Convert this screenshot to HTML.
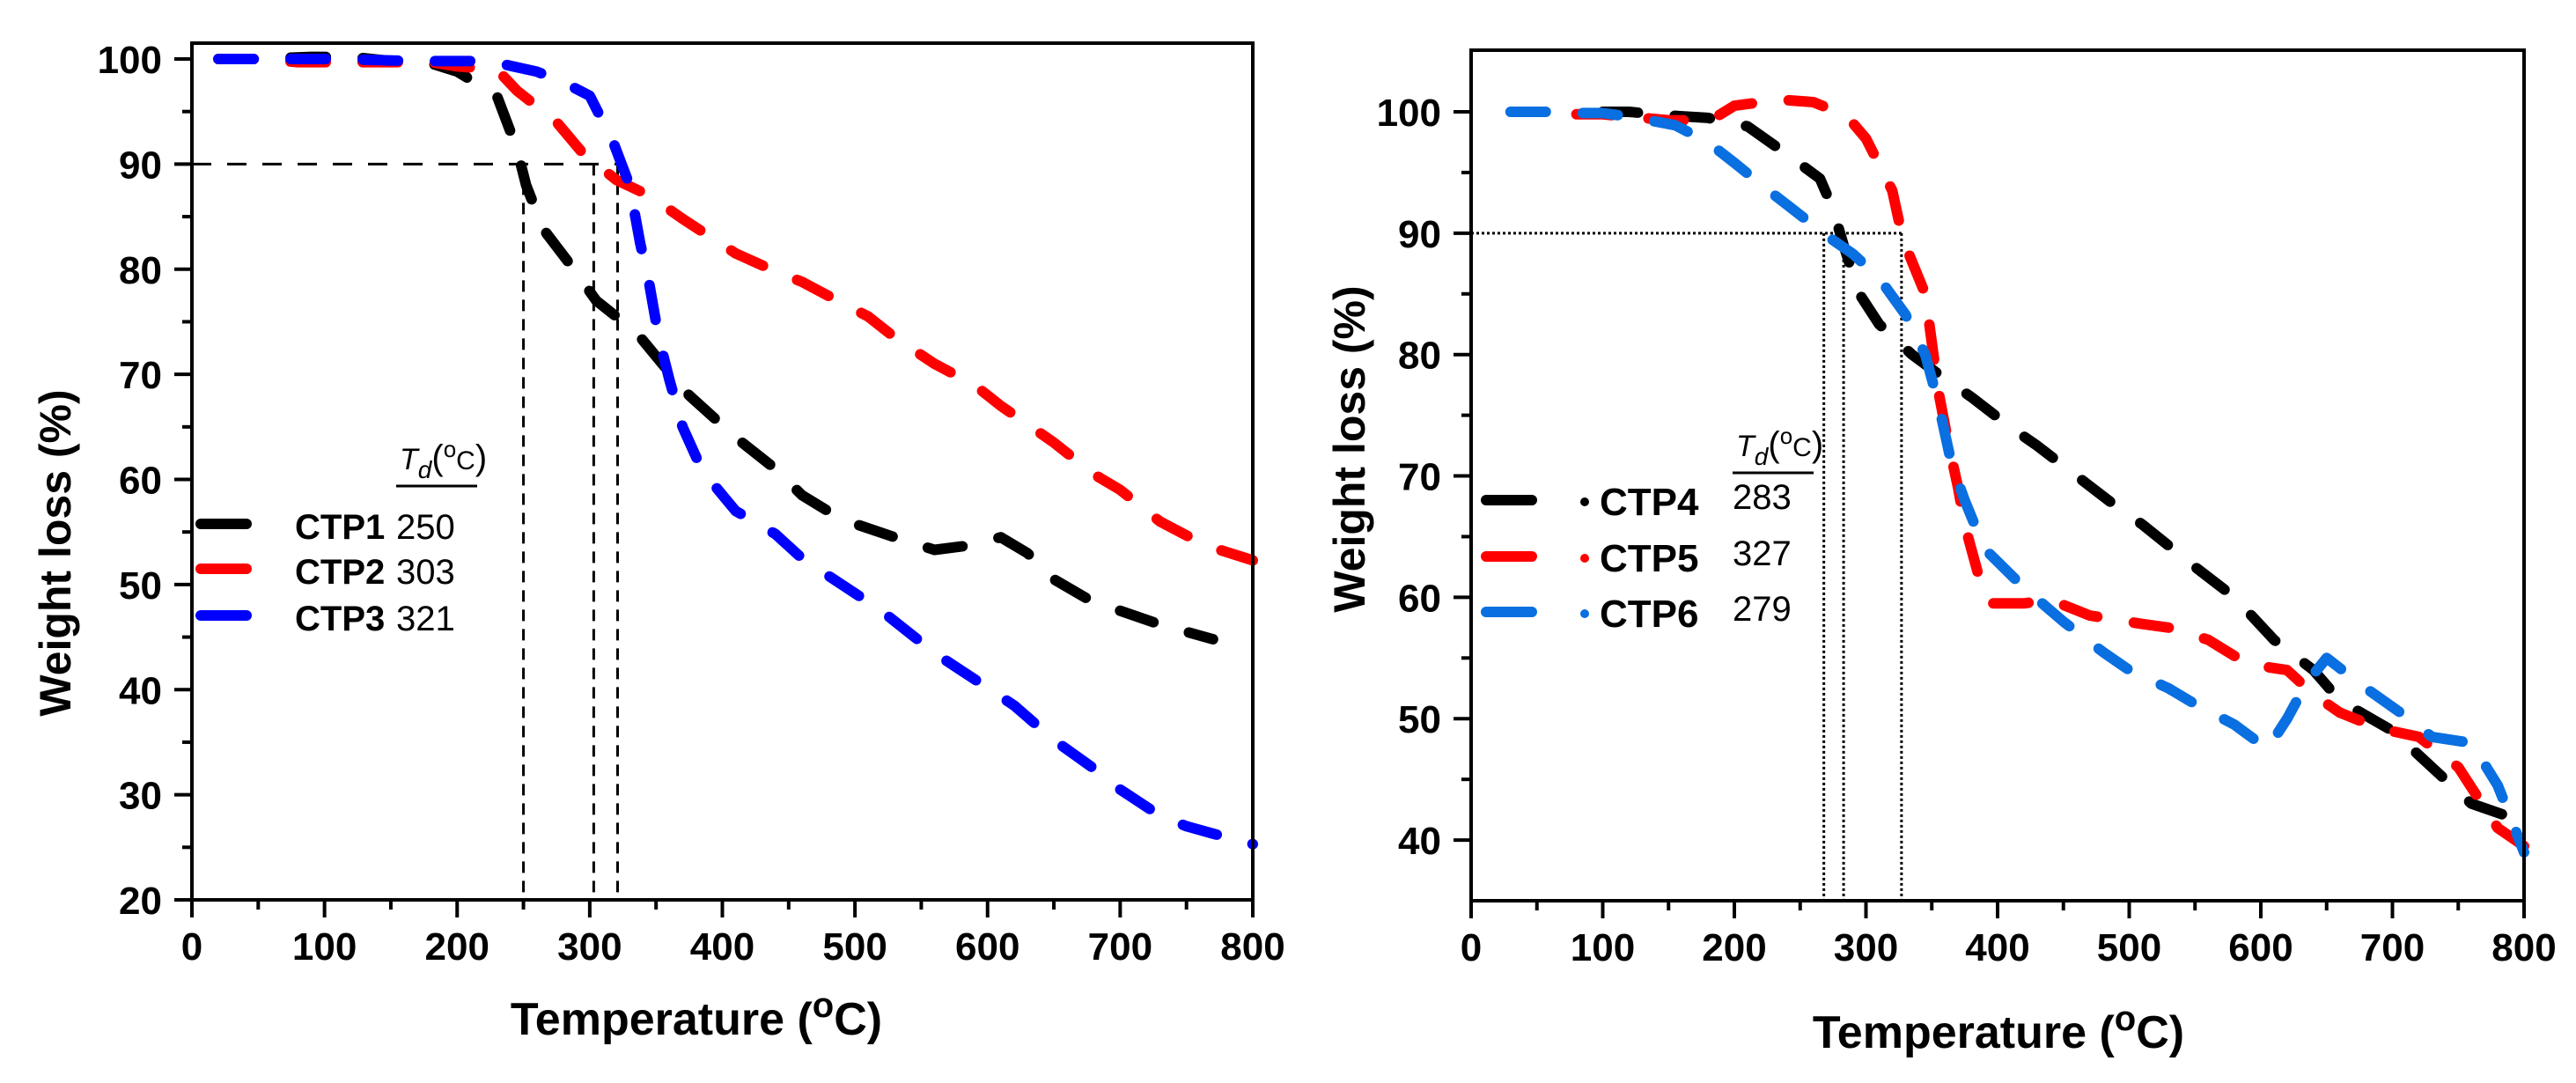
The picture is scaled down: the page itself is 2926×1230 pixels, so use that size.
<!DOCTYPE html>
<html><head><meta charset="utf-8"><style>
html,body{margin:0;padding:0;background:#fff;}
svg{display:block;font-family:"Liberation Sans",Arial,sans-serif;}
</style></head><body>
<svg id="fig" width="2926" height="1230" viewBox="0 0 2926 1230"></svg>
<script>
// ---- Left chart data ----
const leftXTicks=[0,100,200,300,400,500,600,700,800];
const leftYTicks=[20,30,40,50,60,70,80,90,100];
const ctp1T=[20,50,90,120,150,180,200,230,245,252,265,285,305,335,358,375,410,440,460,490,530,560,585,610,630,650,680,700,730,770];
const ctp1W=[100,100,100.2,100.2,99.8,99.6,98.8,96.5,91.5,88,83.8,80.5,77,74,70.5,68,64,61,58.5,56.2,54.5,53.3,53.7,54.5,53,50.5,48.3,47.5,46.2,44.8];
const ctp2T=[20,50,80,110,150,180,200,230,245,275,295,320,345,370,410,440,460,490,510,530,560,590,610,650,680,700,730,760,775,800];
const ctp2W=[100,100,99.7,99.7,99.7,99.7,99.3,99.0,97,94,91,88.5,87,84.8,81.5,79.8,78.8,76.8,75.5,73.5,71,69,67,63.5,60.5,59,56,54,53.3,52.3];
const ctp3T=[20,50,110,170,210,235,260,280,300,318,330,338,345,352,360,370,385,410,440,460,490,520,530,560,590,620,650,680,700,730,750,770,800];
const ctp3W=[100,100,100,99.8,99.8,99.5,98.8,97.8,96.5,92,88,82.5,78.5,73.5,69.5,65,60.8,57,54.8,52.5,50,47.5,46.5,43.5,41,38.5,35.2,32.5,30.5,28,27,26.3,25.3];
const leftTd=[250,303,321];
const leftGuides=[250,303,321];
const leftNames=["CTP1","CTP2","CTP3"];
// ---- Right chart data ----
const rightXTicks=[0,100,200,300,400,500,600,700,800];
const rightYTicks=[40,50,60,70,80,90,100];
const ctp4T=[100,120,150,180,210,240,265,275,283,295,310,335,360,380,410,430,460,490,510,550,580,610,640,660,700,740,760,800];
const ctp4W=[100,100,99.7,99.5,98.8,96.5,94.5,92,89,85,82.5,80,78,76.5,74,72.5,70,67.5,66,62.5,60,56.5,54,51.5,49,45,43,41.5];
const ctp5T=[80,100,150,175,185,200,235,260,285,300,320,328,345,355,362,370,375,385,395,420,440,470,510,530,560,590,620,640,660,690,720,750,780,800];
const ctp5W=[99.8,99.8,99.3,99.3,99.5,100.5,101,100.8,99.7,97.8,93.5,89.5,85,77,73,69,66,62,59.5,59.5,59.8,58.5,57.8,57.5,56.5,54.5,54,52,50.5,49.2,48.5,46,41,39.5];
const ctp6T=[30,60,80,100,120,150,155,180,200,225,250,270,290,310,330,345,355,365,375,390,420,450,480,500,530,550,580,605,620,635,650,680,710,730,760,780,800];
const ctp6W=[100,100,99.9,99.9,99.6,99,98.9,97.5,95.8,93.6,91.5,89.8,88.3,86.3,83.3,80,76,71,68,64,60.8,58,55.5,54,52.5,51.2,49.5,47.5,50,53,55,52.5,50.2,48.5,48,44.5,39];
const rightTd=[283,327,279];
const rightGuides=[268,283,327];
const rightNames=["CTP4","CTP5","CTP6"];

const NS="http://www.w3.org/2000/svg";
const svg=document.getElementById('fig');
function mk(tag,attrs,parent,text){const e=document.createElementNS(NS,tag);for(const k in attrs)e.setAttribute(k,attrs[k]);if(text!==undefined)e.textContent=text;(parent||svg).appendChild(e);return e;}

function chart(cfg){
  const g=mk('g',{});
  
  
  const sx=v=>cfg.x0+(v-cfg.xmin)/(cfg.xmax-cfg.xmin)*(cfg.x1-cfg.x0);
  const sy=v=>cfg.yb+(v-cfg.ymin)/(cfg.ymax-cfg.ymin)*(cfg.yt-cfg.yb);
  const gd=cfg.guideDash;
  const hg=mk('line',{x1:cfg.x0,y1:sy(90),x2:sx(Math.max(...cfg.guides)),y2:sy(90),stroke:'#000','stroke-width':gd.w,'stroke-dasharray':gd.h},g);
  
  
  cfg.guides.forEach(t=>{
    const vl=mk('line',{x1:sx(t),y1:sy(90),x2:sx(t),y2:cfg.yb,stroke:'#000','stroke-width':gd.w,'stroke-dasharray':gd.v},g);
    
    
  });
  cfg.series.forEach(s=>{
    const d=s.t.map((t,i)=>(i?'L':'M')+sx(t).toFixed(1)+' '+sy(s.w[i]).toFixed(1)).join(' ');
    const p=mk('path',{d:d,fill:'none',stroke:s.color,'stroke-width':12,'stroke-linecap':'round','stroke-linejoin':'round','stroke-dasharray':'40 42'},g);
    
    
  });
  const fr=mk('rect',{x:cfg.x0,y:cfg.ft,width:cfg.x1-cfg.x0,height:cfg.yb-cfg.ft,fill:'none',stroke:'#000','stroke-width':4},g);
  
  
  cfg.xticks.forEach(v=>{
    mk('line',{x1:sx(v),y1:cfg.yb,x2:sx(v),y2:cfg.yb+20,stroke:'#000','stroke-width':4},g);
    if(v<cfg.xmax)mk('line',{x1:sx(v+50),y1:cfg.yb,x2:sx(v+50),y2:cfg.yb+11,stroke:'#000','stroke-width':4},g);
    const t=mk('text',{x:sx(v),y:cfg.yb+68,'text-anchor':'middle','font-size':44,'font-weight':'bold'},g,String(v));
    
    
  });
  cfg.yticks.forEach(v=>{
    mk('line',{x1:cfg.x0-20,y1:sy(v),x2:cfg.x0,y2:sy(v),stroke:'#000','stroke-width':4},g);
    if(sy(v+5)>cfg.ft+5)mk('line',{x1:cfg.x0-11,y1:sy(v+5),x2:cfg.x0,y2:sy(v+5),stroke:'#000','stroke-width':4},g);
    if(v===cfg.yticks[0]&&sy(v-5)<cfg.yb-5)mk('line',{x1:cfg.x0-11,y1:sy(v-5),x2:cfg.x0,y2:sy(v-5),stroke:'#000','stroke-width':4},g);
    const t=mk('text',{x:cfg.x0-34,y:sy(v)+16,'text-anchor':'end','font-size':44,'font-weight':'bold'},g,String(v));
    
    
  });
  const xt=mk('text',{x:cfg.xtx,y:cfg.xty,'text-anchor':'middle','font-size':52,'font-weight':'bold'},g);
  
  
  mk('tspan',{},xt,'Temperature (');
  mk('tspan',{dy:-20,'font-size':40},xt,'o');
  mk('tspan',{dy:20},xt,'C)');
  const yt=mk('text',{x:0,y:0,transform:`translate(${cfg.ytx},${cfg.yty}) rotate(-90)`,'text-anchor':'middle','font-size':50,'font-weight':'bold'},g,'Weight loss (%)');
  
  
  const L=cfg.legend;
  const hd=mk('text',{x:L.vx+4,y:L.hy,'font-size':34,'font-style':'italic'},g);
  
  
  mk('tspan',{},hd,'T');
  mk('tspan',{dy:10,'font-size':28},hd,'d');
  mk('tspan',{dy:-10,'font-style':'normal','font-size':40},hd,'(');
  mk('tspan',{dy:-14,'font-size':26,'font-style':'normal'},hd,'o');
  mk('tspan',{dy:14,'font-size':30,'font-style':'normal'},hd,'C');
  mk('tspan',{'font-style':'normal','font-size':40},hd,')');
  mk('line',{x1:L.vx,y1:L.uy,x2:L.vx+92,y2:L.uy,stroke:'#000','stroke-width':3},g);
  cfg.series.forEach((s,i)=>{
    const y=L.ys[i];
    const e=mk('g',{},g);
    
    
    mk('line',{x1:L.lx,y1:y,x2:L.lx+52,y2:y,stroke:s.color,'stroke-width':12,'stroke-linecap':'round'},e);
    if(L.dot)mk('circle',{cx:L.dot,cy:y+2,r:5,fill:s.color},e);
    mk('text',{x:L.nx,y:y+17,'font-size':L.fs,'font-weight':'bold'},e,s.name);
    mk('text',{x:L.vx,y:y+(L.dot?10:17),'font-size':40},e,String(cfg.td[i]));
  });
}

chart({name:'left-chart',x0:218,x1:1423,yt:67,yb:1022,ft:49,xmin:0,xmax:800,ymin:20,ymax:100,
  xticks:leftXTicks,yticks:leftYTicks,td:leftTd,guides:leftGuides,guideDash:{w:3,h:'22 18',v:'13 9'},
  xtx:791,xty:1175,ytx:80,yty:628,
  series:[{name:leftNames[0],t:ctp1T,w:ctp1W,color:'#000'},{name:leftNames[1],t:ctp2T,w:ctp2W,color:'#ff0000'},{name:leftNames[2],t:ctp3T,w:ctp3W,color:'#0000ff'}],
  legend:{lx:228,nx:335,vx:450,fs:40,hy:533,uy:552,ys:[595,646,699]}});
chart({name:'right-chart',x0:1671,x1:2867,yt:127,yb:1023,ft:57,xmin:0,xmax:800,ymin:35,ymax:100,
  xticks:rightXTicks,yticks:rightYTicks,td:rightTd,guides:rightGuides,guideDash:{w:3,h:'3 3',v:'3 3'},
  xtx:2270,xty:1190,ytx:1550,yty:510,
  series:[{name:rightNames[0],t:ctp4T,w:ctp4W,color:'#000'},{name:rightNames[1],t:ctp5T,w:ctp5W,color:'#ff0000'},{name:rightNames[2],t:ctp6T,w:ctp6W,color:'#0a6fe0'}],
  legend:{lx:1688,nx:1817,vx:1968,fs:44,dot:1800,hy:518,uy:537,ys:[568,632,695]}});
</script>
</body></html>
